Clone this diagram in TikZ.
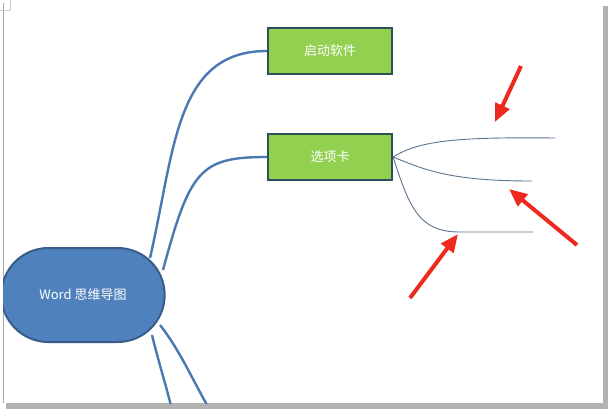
\documentclass[tikz,border=0pt]{standalone}
\usepackage{fontspec}
\setmainfont{Noto Sans CJK SC}
\usetikzlibrary{arrows.meta,shapes.misc}
\definecolor{rootb}{HTML}{4F81BD}
\definecolor{rootd}{HTML}{385D8A}
\definecolor{leafg}{HTML}{92D050}
\definecolor{leafd}{HTML}{2F4F5A}
\definecolor{branch}{HTML}{4A78B0}
\definecolor{thin}{HTML}{5A7590}
\definecolor{arr}{HTML}{EE2A1E}
\tikzset{
 rootnode/.style={rounded rectangle,fill=rootb,draw=rootd,line width=2pt,minimum width=170pt,minimum height=94pt,text=white,font=\fontsize{13}{15}\selectfont},
 leaf/.style={rectangle,fill=leafg,draw=leafd,line width=2.2pt,minimum width=124pt,minimum height=46pt,text=white,font=\fontsize{13}{15}\selectfont},
 br/.style={draw=branch,line width=2.4pt},
 tb/.style={draw=thin,line width=0.9pt},
 redarrow/.style={draw=arr,line width=4pt,-{Triangle[length=18pt,width=15pt]}}
}
\begin{document}
\begin{tikzpicture}[x=1pt,y=-1pt]
\useasboundingbox (0,0) rectangle (613,413);
\fill[white] (0,0) rectangle (613,413);
\fill[gray!60] (6,6) rectangle (608,409);
\fill[white] (3,3) rectangle (603,403);
\draw[gray!70,line width=0.8pt] (3,3) -- (3,403);
\draw[gray!40,line width=0.5pt] (0,10) -- (10,10) -- (10,0);
\begin{scope}
\clip (3,3) rectangle (603,403);
\node[rootnode] (root) at (83,295) {Word 思维导图};
\node[leaf] (n1) at (330,51) {启动软件};
\node[leaf] (n2) at (330,157) {选项卡};
\coordinate (d1) at (172,410);
\coordinate (d2) at (210,410);
\coordinate (e1) at (555,138);
\coordinate (e2) at (532,181);
\coordinate (e3) at (533,232);
\draw[br] (150,258) .. controls (175,150) and (175,51) .. (n1.west);
\draw[br] (163,270) .. controls (190,170) and (200,157) .. (n2.west);
\draw[br] (152,335) .. controls (158,360) and (166,385) .. (d1);
\draw[br] (160,325) .. controls (180,350) and (195,385) .. (d2);
\draw[tb] (n2.east) .. controls (420,140) and (460,137) .. (e1);
\draw[tb] (n2.east) .. controls (425,170) and (450,181) .. (e2);
\draw[tb] (n2.east) .. controls (410,210) and (420,232) .. (460,232) -- (e3);
\draw[redarrow] (521,66) -- (495,122);
\draw[redarrow] (577,245) -- (509,189);
\draw[redarrow] (410,298) -- (458,234);
\end{scope}
\end{tikzpicture}
\end{document}
